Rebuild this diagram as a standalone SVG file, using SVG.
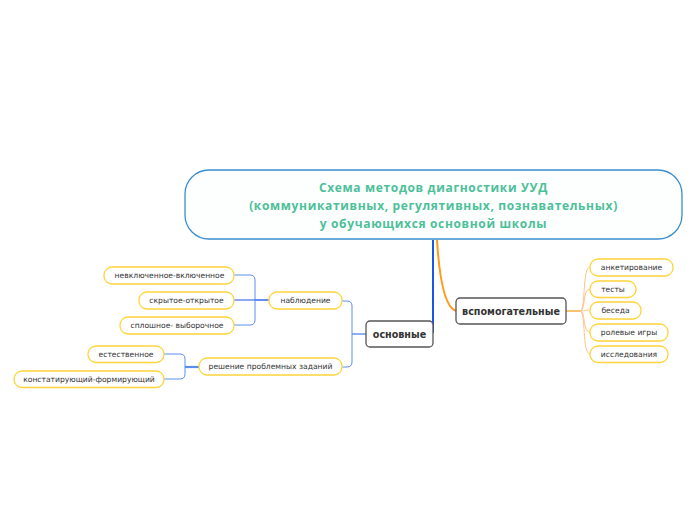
<svg xmlns="http://www.w3.org/2000/svg" width="696" height="520" viewBox="0 0 696 520">
<style>
.leaf rect{fill:#fff;stroke:#ffd43b;stroke-width:1.3}
.leaf text{font-family:"DejaVu Sans",sans-serif;font-size:7.6px;fill:#333;text-anchor:middle;dominant-baseline:central}
.main rect{fill:#fff;stroke:#555;stroke-width:1.3}
.main text{font-family:"DejaVu Sans",sans-serif;font-weight:bold;font-size:9.6px;fill:#333;text-anchor:middle;dominant-baseline:central}
.title text{font-family:"Open Sans",sans-serif;font-weight:bold;font-size:12px;letter-spacing:0.65px;fill:#4dbf99;text-anchor:middle}
.c{fill:none}
.b1{stroke:#1a56e8;stroke-width:2}
.b2{stroke:#5b8ef0;stroke-width:1}
.b3{stroke:#1a56e8;stroke-width:1.2}
.o1{stroke:#ff9a1a;stroke-width:2}
.o2{stroke:#ffc48a;stroke-width:1}
</style>
<g id="connectors" class="c">
<path class="b1" d="M433,240 L433,333"/>
<path class="o1" d="M437,240 Q441,306 456,311"/>
<path class="o1" style="stroke-width:1.2" d="M566,311 L580,311"/>
<path class="o2" d="M580,311 C586,311 582,267 590,267"/>
<path class="o2" d="M580,311 C586,311 582,289 590,289"/>
<path class="o2" d="M580,311 C586,311 584,310 590,310"/>
<path class="o2" d="M580,311 C586,311 582,332 590,332"/>
<path class="o2" d="M580,311 C586,311 582,354 590,354"/>
<path class="b2" style="stroke-width:1.4" d="M366,334 L352,334"/>
<path class="b2" d="M352,334 L352,306 Q352,301 347,301 L342,301"/>
<path class="b2" d="M352,334 L352,362 Q352,367 347,367 L342,367"/>
<path class="b2" d="M269,300 L255,300"/>
<path class="b2" d="M255,300 L255,280 Q255,275 250,275 L234,275"/>
<path class="b3" d="M234,300 L269,300"/>
<path class="b2" d="M255,300 L255,320 Q255,325 250,325 L234,325"/>
<path class="b2" style="stroke-width:2.2" d="M199,367 L185,367"/>
<path class="b2" d="M185,367 L185,359 Q185,354 180,354 L164,354"/>
<path class="b2" d="M185,367 L185,374 Q185,379 180,379 L164,379"/>
</g>
<g id="title" class="title">
<rect x="185" y="170" width="497" height="69" rx="24" fill="#fcfffe" stroke="#3a8dd0" stroke-width="1.3"/>
<text x="433.5" y="191.5">Схема методов диагностики УУД</text>
<text x="433.5" y="209.5">(коммуникативных, регулятивных, познавательных)</text>
<text x="433.5" y="227.5">у обучающихся основной школы</text>
</g>
<g id="osnovnye" class="main"><rect x="366" y="321" width="67" height="26" rx="4"/><text x="399.5" y="334">основные</text></g>
<g id="vspomogatelnye" class="main"><rect x="456" y="298" width="110" height="26" rx="4"/><text x="511" y="311">вспомогательные</text></g>
<g id="anketirovanie" class="leaf"><rect x="590" y="259" width="83" height="17" rx="8"/><text x="631.5" y="267.5">анкетирование</text></g>
<g id="testy" class="leaf"><rect x="590" y="281" width="46" height="16.5" rx="8"/><text x="613" y="289.3">тесты</text></g>
<g id="beseda" class="leaf"><rect x="590" y="302" width="51" height="17" rx="8"/><text x="615.5" y="310.5">беседа</text></g>
<g id="rolevye" class="leaf"><rect x="590" y="324" width="78" height="17" rx="8"/><text x="629" y="332.5">ролевые игры</text></g>
<g id="issledovaniya" class="leaf"><rect x="590" y="346" width="78" height="16.5" rx="8"/><text x="629" y="354.3">исследования</text></g>
<g id="nablyudenie" class="leaf"><rect x="269" y="292" width="73" height="17" rx="8"/><text x="305.5" y="300.5">наблюдение</text></g>
<g id="reshenie" class="leaf"><rect x="199" y="358" width="143" height="17" rx="8"/><text x="270.5" y="366.5">решение проблемных заданий</text></g>
<g id="nevkl" class="leaf"><rect x="104" y="267" width="130" height="17" rx="8"/><text x="169.5" y="275.5">невключенное-включенное</text></g>
<g id="skrytoe" class="leaf"><rect x="139" y="292" width="95" height="17" rx="8"/><text x="186.5" y="300.5">скрытое-открытое</text></g>
<g id="sploshnoe" class="leaf"><rect x="120" y="317" width="114" height="17" rx="8"/><text x="177" y="325.5">сплошное- выборочное</text></g>
<g id="estestvennoe" class="leaf"><rect x="88" y="346" width="76" height="16.5" rx="8"/><text x="126" y="354.3">естественное</text></g>
<g id="konstat" class="leaf"><rect x="14" y="371" width="150" height="16.5" rx="8"/><text x="89" y="379.3">констатирующий-формирующий</text></g>
</svg>
